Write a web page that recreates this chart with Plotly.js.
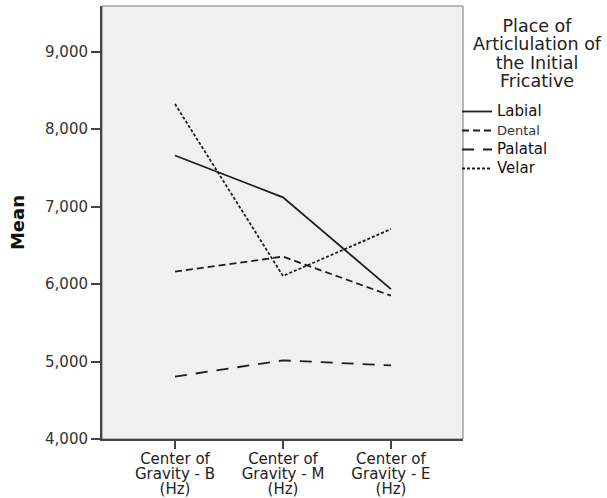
<!DOCTYPE html>
<html>
<head>
<meta charset="utf-8">
<script src="https://cdn.plot.ly/plotly-3.0.1.min.js"></script>
<style>
  html, body { margin: 0; padding: 0; background: #ffffff; }
  #chart { width: 607px; height: 498px; }
</style>
</head>
<body>
<div id="chart"></div>
<script>
// Measurement positions (x categories)
const positions = [
  "Center of<br>Gravity - B<br>(Hz)",
  "Center of<br>Gravity - M<br>(Hz)",
  "Center of<br>Gravity - E<br>(Hz)"
];

// Mean center of gravity by place of articulation
const labial  = [7660, 7120, 5935];
const dental  = [6160, 6355, 5850];
const palatal = [4805, 5015, 4950];
const velar   = [8325, 6105, 6710];

const yTickVals = [4000, 5000, 6000, 7000, 8000, 9000];
const yTickText = ["4,000", "5,000", "6,000", "7,000", "8,000", "9,000"];

const legendTitle = "Place of<br>Articlulation of<br>the Initial<br>Fricative";
const seriesNames = [
  "<span style=\"font-size:15px\">Labial</span>",
  "<span style=\"font-size:13px;fill:#333\">Dental</span>",
  "<span style=\"font-size:15px\">Palatal</span>",
  "<span style=\"font-size:15px\">Velar</span>"
];
const seriesValues = [labial, dental, palatal, velar];
const seriesDash = ["solid", "7px,4px", "12px,9px", "3px,2px"];

const traces = seriesValues.map((vals, i) => ({
  type: "scatter",
  mode: "lines",
  x: [0, 1, 2],
  y: vals,
  name: seriesNames[i],
  line: { color: "#1e1e1e", width: 1.8, dash: seriesDash[i] },
  hoverinfo: "skip"
}));

const M = { l: 102, r: 144, t: 6, b: 59 };
const W = 607, H = 498;
const PH = H - M.t - M.b, PW = W - M.l - M.r;

const layout = {
  width: W,
  height: H,
  margin: M,
  paper_bgcolor: "#ffffff",
  plot_bgcolor: "#f0f0f0",
  font: { family: "DejaVu Sans, sans-serif", size: 15, color: "#222" },
  showlegend: true,
  legend: {
    x: (457 - M.l) / PW,
    xref: "paper",
    y: (H - 97 - M.b) / PH,
    yanchor: "top",
    bgcolor: "rgba(0,0,0,0)",
    font: { size: 12, color: "#111" },
    tracegroupgap: 0,
    itemwidth: 30
  },
  annotations: [
    {
      // legend heading, centred above the entries
      text: legendTitle,
      xref: "paper", yref: "paper",
      x: (537 - M.l) / PW,
      y: (H - 14 - M.b) / PH,
      xanchor: "center", yanchor: "top",
      align: "center",
      showarrow: false,
      font: { size: 17.5, color: "#222" }
    }
  ],
  xaxis: {
    range: [-0.676, 2.667],
    tickmode: "array",
    tickvals: [0, 1, 2],
    ticktext: positions,
    ticks: "outside",
    ticklen: 8,
    tickwidth: 2,
    tickcolor: "#444",
    ticklabelstandoff: -3,
    showgrid: false,
    zeroline: false,
    showline: true,
    linecolor: "#444",
    linewidth: 2,
    tickfont: { size: 15, color: "#222" }
  },
  yaxis: {
    range: [4000, 9590],
    tickmode: "array",
    tickvals: yTickVals,
    ticktext: yTickText,
    ticks: "outside",
    ticklen: 9,
    tickwidth: 2,
    tickcolor: "#444",
    showgrid: false,
    zeroline: false,
    showline: true,
    linecolor: "#444",
    linewidth: 2,
    tickfont: { size: 15, color: "#333" },
    title: { text: "<b>Mean</b>", font: { size: 18, color: "#111" }, standoff: 16 }
  },
  shapes: [
    {
      type: "rect", xref: "paper", yref: "paper",
      x0: 0, x1: 1, y0: 0, y1: 1,
      line: { color: "#777", width: 1 },
      fillcolor: "rgba(0,0,0,0)",
      layer: "below"
    }
  ]
};

// Tighten the line spacing of multi-line labels
function tightenLines(selector, ratio) {
  document.querySelectorAll(selector).forEach(t => {
    const dy = t.getAttribute("dy");
    if (dy && dy.endsWith("em")) {
      const v = parseFloat(dy);
      if (v) t.setAttribute("dy", (v * ratio).toFixed(3) + "em");
    }
  });
}

Plotly.newPlot("chart", traces, layout, { staticPlot: true, displayModeBar: false })
  .then(() => {
    tightenLines("#chart .xtick text tspan.line", 1.0 / 1.3);
    tightenLines("#chart .annotation-text tspan.line", 1.05 / 1.3);
  });
</script>
</body>
</html>
